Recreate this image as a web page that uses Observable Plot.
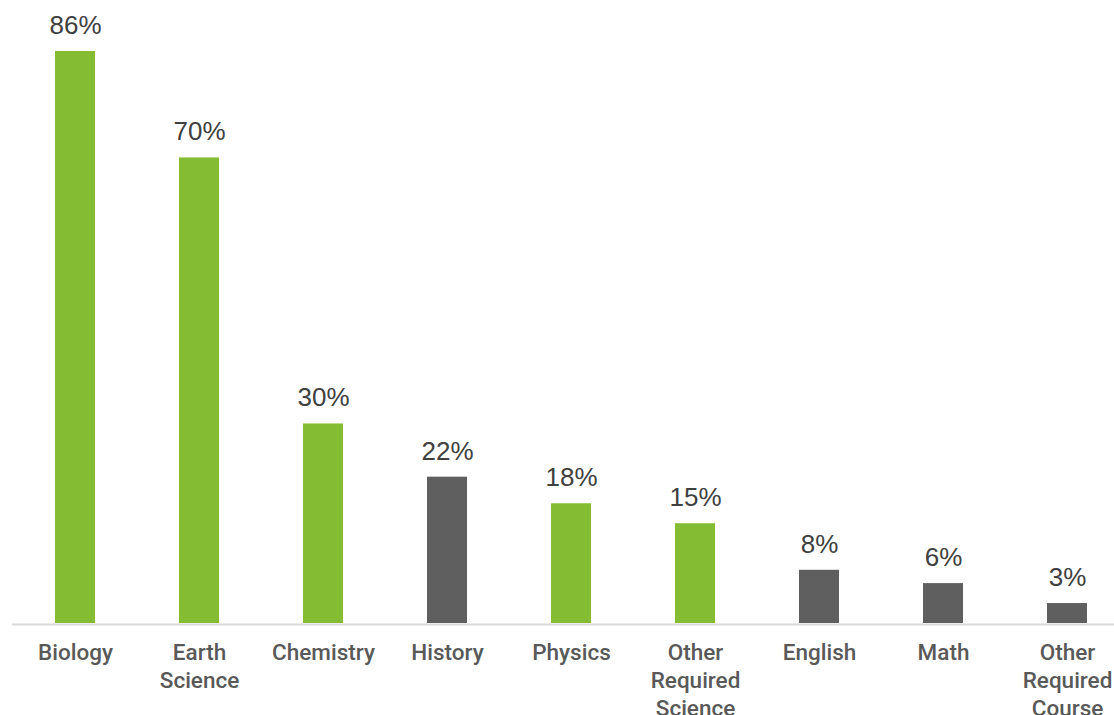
<!DOCTYPE html>
<html>
<head>
<meta charset="utf-8">
<script src="https://cdn.jsdelivr.net/npm/d3@7"></script>
<script src="https://cdn.jsdelivr.net/npm/@observablehq/plot@0.6"></script>
<style>
  html, body { margin: 0; padding: 0; background: #ffffff; }
  #chart svg { display: block; }
</style>
</head>
<body>
<div id="chart"></div>
<script>
const categories = ["Biology", "Earth Science", "Chemistry", "History", "Physics", "Other Required Science", "English", "Math", "Other Required Course"];
const values = [86, 70, 30, 22, 18, 15, 8, 6, 3];
const groups = ["science", "science", "science", "other", "science", "science", "other", "other", "other"];

const data = categories.map((c, i) => ({category: c, value: values[i], group: groups[i]}));

const chart = Plot.plot({
  width: 1114,
  height: 715,
  marginLeft: 12,
  marginRight: 0,
  marginTop: 0,
  marginBottom: 0,
  style: {background: "#ffffff", fontFamily: "Roboto, 'Liberation Sans', sans-serif"},
  x: {domain: categories, range: [11, 1131], paddingInner: 0.68, paddingOuter: 0.34, axis: null},
  y: {domain: [0, 86], range: [623, 51], axis: null},
  color: {domain: ["science", "other"], range: ["#84bc33", "#5f5f5f"]},
  marks: [
    Plot.ruleY([0], {stroke: "#d9d9d9", strokeWidth: 2, dy: 1}),
    Plot.barY(data, {x: "category", y: "value", fill: "group"}),
    Plot.text(data, {
      x: "category", y: "value",
      text: d => d.value + "%",
      dy: -26, fontSize: 26, fill: "#404040",
      fontFamily: "'Liberation Sans', Arial, sans-serif"
    }),
    Plot.text(data, {
      x: "category", y: () => 0,
      text: d => d.category.split(" ").join("\n"),
      lineAnchor: "top", dy: 17, fontSize: 22.5, lineHeight: 28 / 22.5,
      fontWeight: 500, fill: "#595959"
    })
  ]
});
document.getElementById("chart").appendChild(chart);
</script>
</body>
</html>
